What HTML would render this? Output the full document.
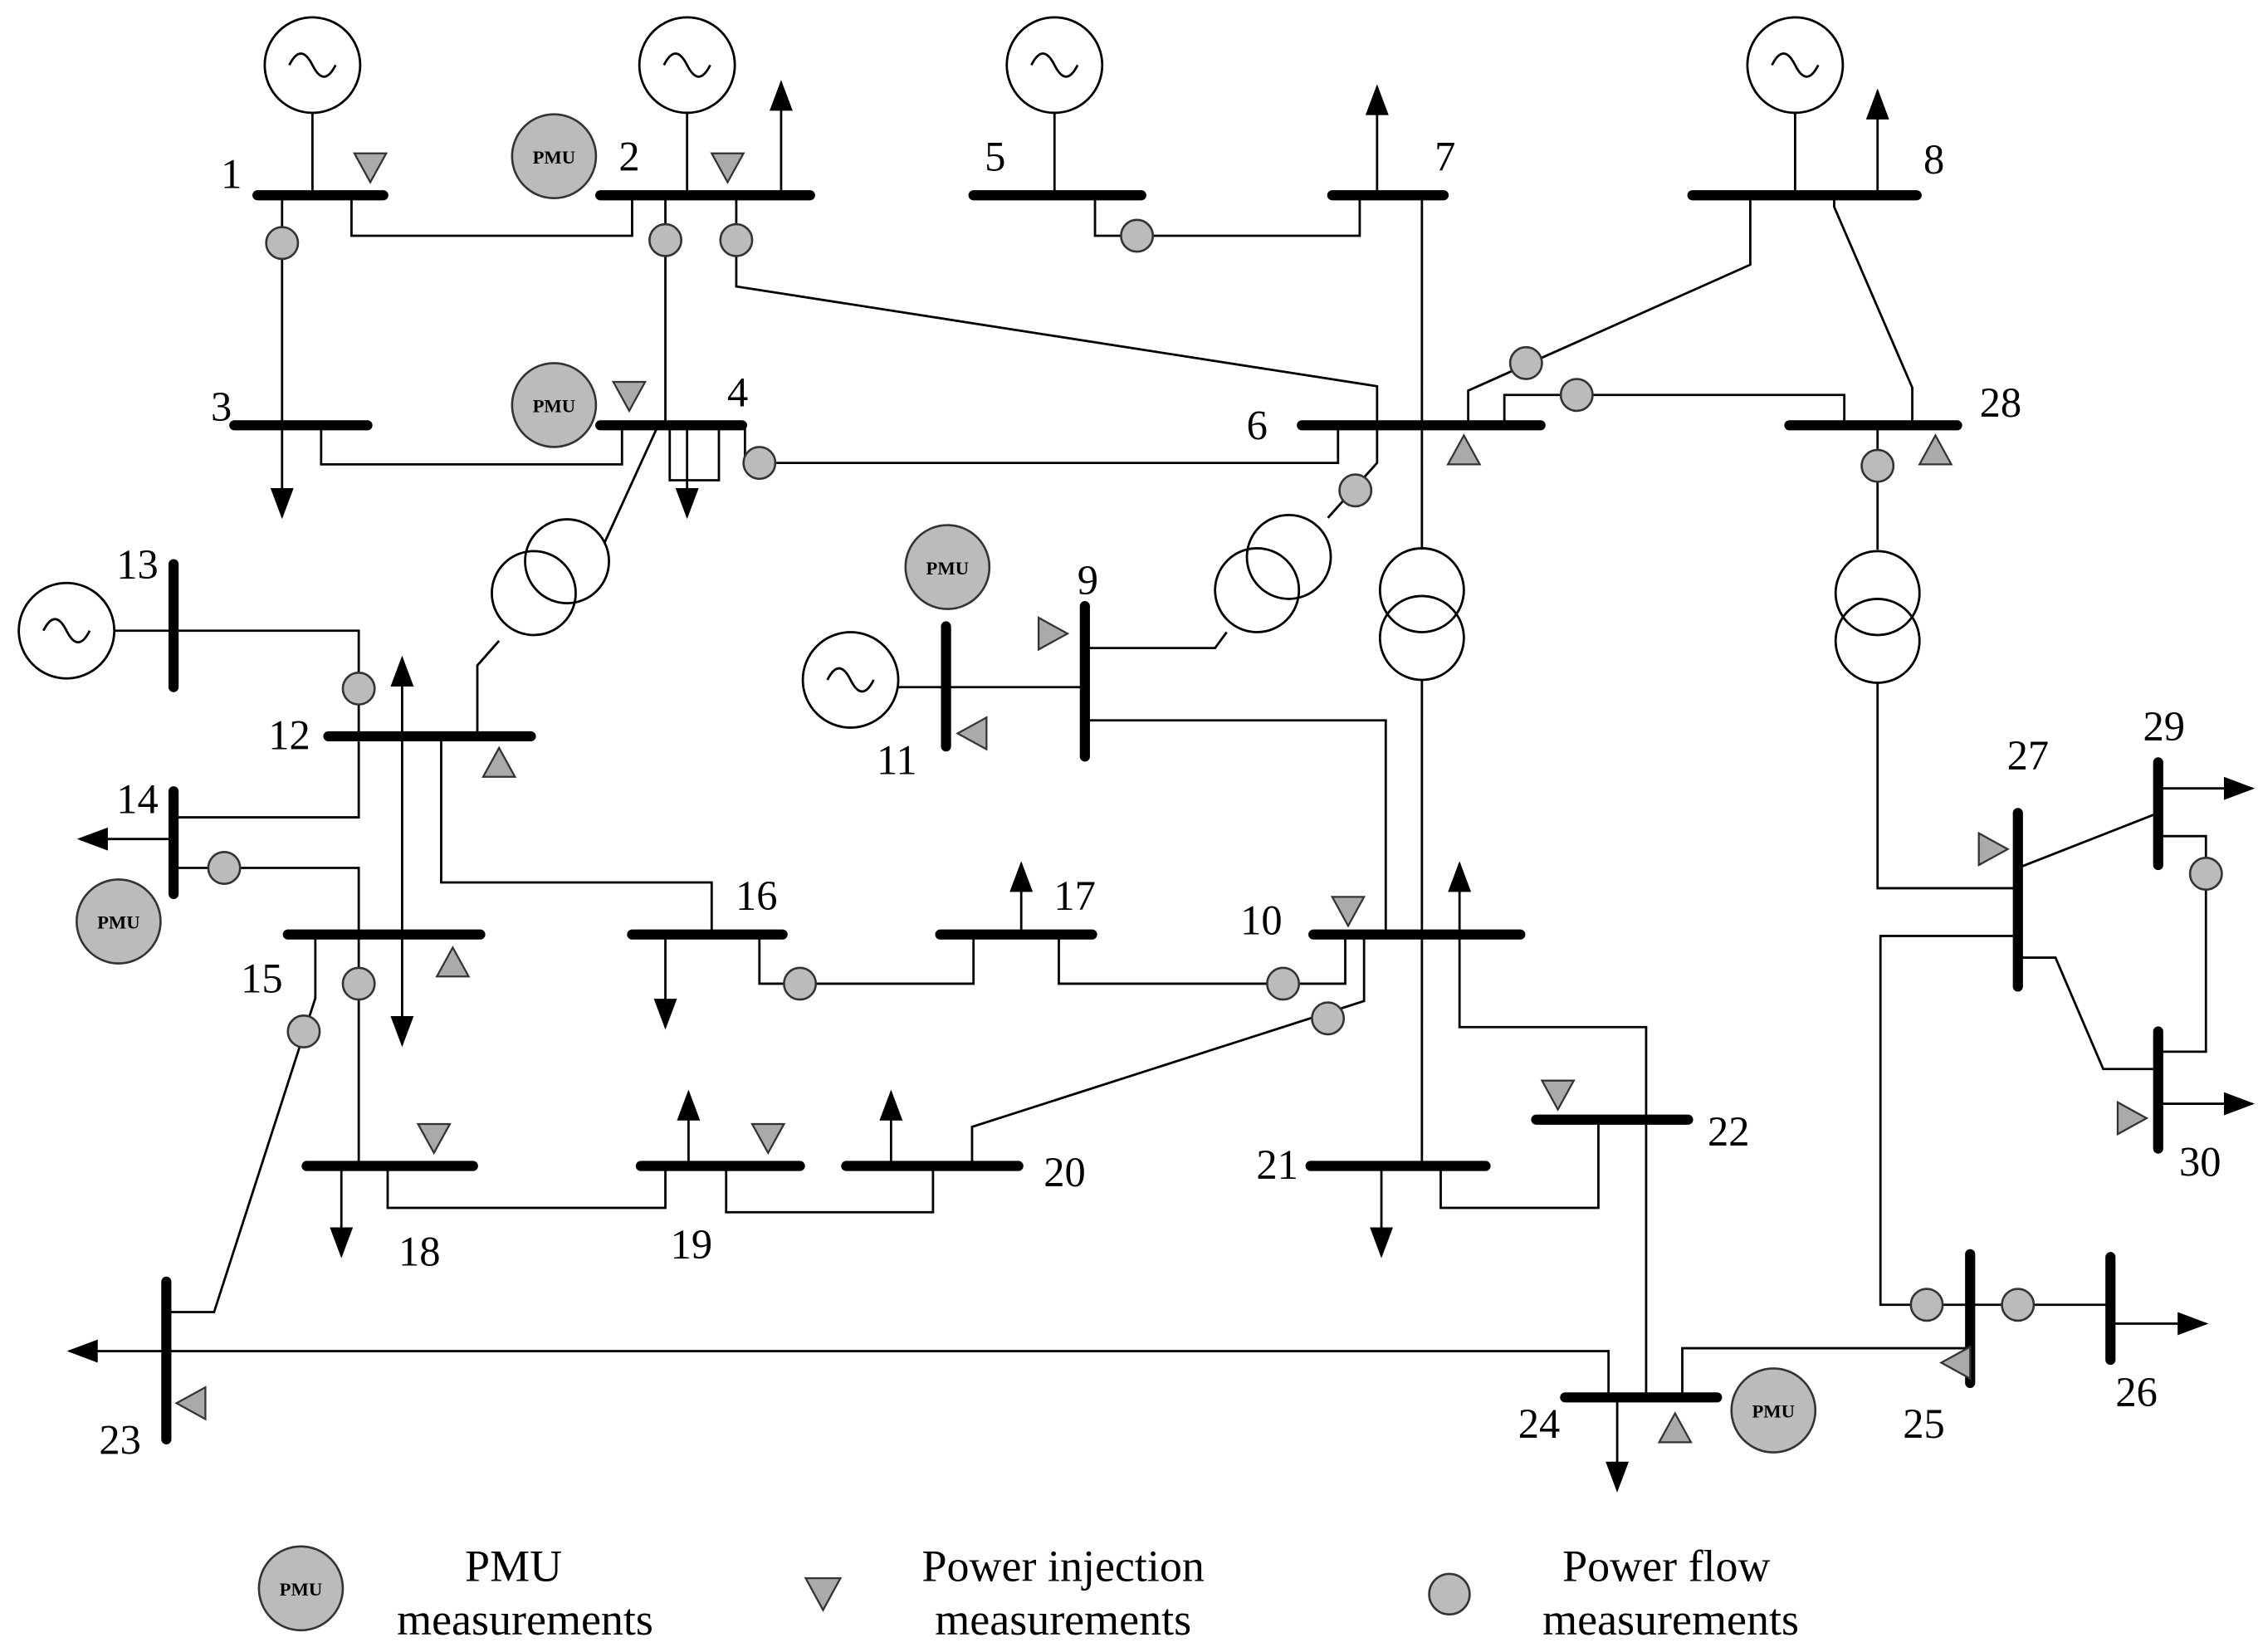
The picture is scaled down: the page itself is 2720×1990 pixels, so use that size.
<!DOCTYPE html>
<html><head><meta charset="utf-8"><style>html,body{margin:0;padding:0;background:#fff}svg{display:block}</style></head><body>
<svg width="2720" height="1990" viewBox="0 0 1561 1142" preserveAspectRatio="none" xmlns="http://www.w3.org/2000/svg" font-family="Liberation Serif, serif">
<defs>
<marker id="a" viewBox="0 0 12 9" refX="11" refY="4.5" markerWidth="22" markerHeight="16" markerUnits="userSpaceOnUse" orient="auto"><path d="M0,0 L12,4.5 L0,9 z" fill="#000"/></marker>
</defs>
<g stroke="#000" stroke-width="1.6" fill="none">
<circle cx="216" cy="45" r="33"/><circle cx="475" cy="45" r="33"/><circle cx="729" cy="45" r="33"/><circle cx="1241" cy="45" r="33"/>
<circle cx="46" cy="436" r="33"/><circle cx="588" cy="470" r="33"/>
<path d="M216,78V135M475,78V135M729,78V135M1241,78V135M79,436H120M621,475H750"/>
<path d="M243,135V163H437V135M195,135V294M460,135V294M509,135V198L952,267V294M222,294V321H430V294M463,294V332H497V294M515,294V320H925V294M455,294L418,375M330,509V460L345,443M757,135V163H940V135M983,135V380M983,470V806M1210,135V183L1015,270V294M1268,135V143L1322,268V294M1040,294V273H1275V294M952,294V320L918,358M848,437L840,448H750M1298,294V380M1298,472V614H1395M120,436H248V509M248,509V565H120M305,509V610H492V646M120,600H248V646M248,646V806M218,646V690L148,907H115M525,646V680H673V646M732,646V680H930V646M750,498H958V646M943,646V692L672,779V806M1009,646V710H1138V966M1105,774V835H996V806M268,806V835H460V806M502,806V838H645V806M115,934H1112V966M1163,966V932H1362M1395,647H1300V902H1459M1395,600L1492,562M1492,578H1525V727H1492M1395,662H1421L1454,739H1492"/>
<circle cx="392" cy="388" r="29"/><circle cx="369" cy="410" r="29"/>
<circle cx="891" cy="385" r="29"/><circle cx="869" cy="408" r="29"/>
<circle cx="983" cy="408" r="29"/><circle cx="983" cy="441" r="29"/>
<circle cx="1298" cy="410" r="29"/><circle cx="1298" cy="443" r="29"/>
<g marker-end="url(#a)">
<path d="M540,135V57"/><path d="M195,294V357"/><path d="M475,294V357"/><path d="M952,135V60"/><path d="M278,509V455"/><path d="M278,509V722"/><path d="M120,580H55"/><path d="M460,646V710"/><path d="M706,646V597"/><path d="M1009,646V597"/><path d="M955,806V868"/><path d="M236,806V868"/><path d="M476,806V755"/><path d="M616,806V755"/><path d="M115,934H48"/><path d="M1118,966V1030"/><path d="M1459,915H1525"/><path d="M1492,545H1557"/><path d="M1492,763H1557"/><path d="M1298,135V63"/>
</g>
</g>
<g stroke="#000" stroke-width="7" fill="none" stroke-linecap="round">
<path d="M178,135H265M415,135H560M673,135H789M921,135H998M1170,135H1325M162,294H254M415,294H513M900,294H1065M1237,294H1353M227,509H367M437,646H541M650,646H755M908,646H1051M199,646H332M212,806H327M443,806H553M585,806H704M906,806H1027M1062,774H1167M1082,966H1187"/>
<path d="M120,390V475M120,547V618M654,433V516M750,419V523M1395,562V682M1492,527V598M1492,713V794M1362,867V956M1459,869V940M115,886V995"/>
</g>
<g fill="#bbb" stroke="#333" stroke-width="1.5">
<circle cx="195" cy="168" r="11"/><circle cx="460" cy="166" r="11"/><circle cx="509" cy="166" r="11"/><circle cx="786" cy="163" r="11"/>
<circle cx="525" cy="320" r="11"/><circle cx="1055" cy="251" r="11"/><circle cx="1090" cy="273" r="11"/><circle cx="937" cy="339" r="11"/>
<circle cx="1298" cy="322" r="11"/><circle cx="248" cy="476" r="11"/><circle cx="155" cy="600" r="11"/><circle cx="248" cy="680" r="11"/>
<circle cx="210" cy="713" r="11"/><circle cx="553" cy="680" r="11"/><circle cx="887" cy="680" r="11"/><circle cx="918" cy="704" r="11"/>
<circle cx="1525" cy="604" r="11"/><circle cx="1332" cy="902" r="11"/><circle cx="1395" cy="902" r="11"/>
<circle cx="1002" cy="1102" r="14"/>
</g>
<g fill="#aaa" stroke="#333" stroke-width="1.3">
<path d="M245,106h22l-11,20z"/><path d="M492,106h22l-11,20z"/><path d="M424,264h22l-11,20z"/>
<path d="M1001,321h22l-11,-20z"/><path d="M1327,321h22l-11,-20z"/><path d="M334,537h22l-11,-20z"/><path d="M302,675h22l-11,-20z"/>
<path d="M921,620h22l-11,20z"/><path d="M1066,747h22l-11,20z"/><path d="M289,777h22l-11,20z"/><path d="M520,777h22l-11,20z"/>
<path d="M1147,997h22l-11,-20z"/>
<path d="M718,427v22l20,-11z"/><path d="M682,496v22l-20,-11z"/><path d="M142,959v22l-20,-11z"/><path d="M1362,931v22l-20,-11z"/>
<path d="M1368,576v22l20,-11z"/><path d="M1464,762v22l20,-11z"/>
<path d="M557,1091h24l-12,22z"/>
</g>
<g fill="#bbb" stroke="#333" stroke-width="1.5">
<circle cx="383" cy="108" r="29"/><circle cx="383" cy="280" r="29"/><circle cx="655" cy="392" r="29"/><circle cx="82" cy="637" r="29"/><circle cx="1226" cy="975" r="29"/><circle cx="208" cy="1098" r="29"/>
</g>
<g font-size="13" font-weight="bold" text-anchor="middle" fill="#000">
<text x="383" y="113">PMU</text><text x="383" y="285">PMU</text><text x="655" y="397">PMU</text><text x="82" y="642">PMU</text><text x="1226" y="980">PMU</text><text x="208" y="1103">PMU</text>
</g>
<g stroke="#000" stroke-width="1.6" fill="none">
<path d="M200,45q8,-16 16,0t16,0"/><path d="M459,45q8,-16 16,0t16,0"/><path d="M713,45q8,-16 16,0t16,0"/><path d="M1225,45q8,-16 16,0t16,0"/><path d="M30,436q8,-16 16,0t16,0"/><path d="M572,470q8,-16 16,0t16,0"/>
</g>
<g font-size="29" fill="#000" text-anchor="middle">
<text x="160" y="130">1</text><text x="435" y="118">2</text><text x="688" y="118">5</text><text x="999" y="118">7</text><text x="1337" y="120">8</text>
<text x="153" y="291">3</text><text x="510" y="281">4</text><text x="869" y="304">6</text><text x="1383" y="288">28</text>
<text x="95" y="400">13</text><text x="752" y="411">9</text><text x="200" y="518">12</text><text x="95" y="562">14</text><text x="620" y="535">11</text>
<text x="1402" y="532">27</text><text x="1496" y="512">29</text><text x="523" y="629">16</text><text x="743" y="629">17</text><text x="872" y="646">10</text>
<text x="181" y="686">15</text><text x="736" y="820">20</text><text x="883" y="815">21</text><text x="1195" y="792">22</text><text x="1521" y="813">30</text>
<text x="290" y="875">18</text><text x="478" y="870">19</text><text x="83" y="1005">23</text><text x="1064" y="994">24</text><text x="1330" y="994">25</text><text x="1477" y="972">26</text>
</g>
<g font-size="31" fill="#000" text-anchor="middle">
<text x="355" y="1093">PMU</text><text x="363" y="1130">measurements</text>
<text x="735" y="1093">Power injection</text><text x="735" y="1130">measurements</text>
<text x="1152" y="1093">Power flow</text><text x="1155" y="1130">measurements</text>
</g>
</svg>
</body></html>
